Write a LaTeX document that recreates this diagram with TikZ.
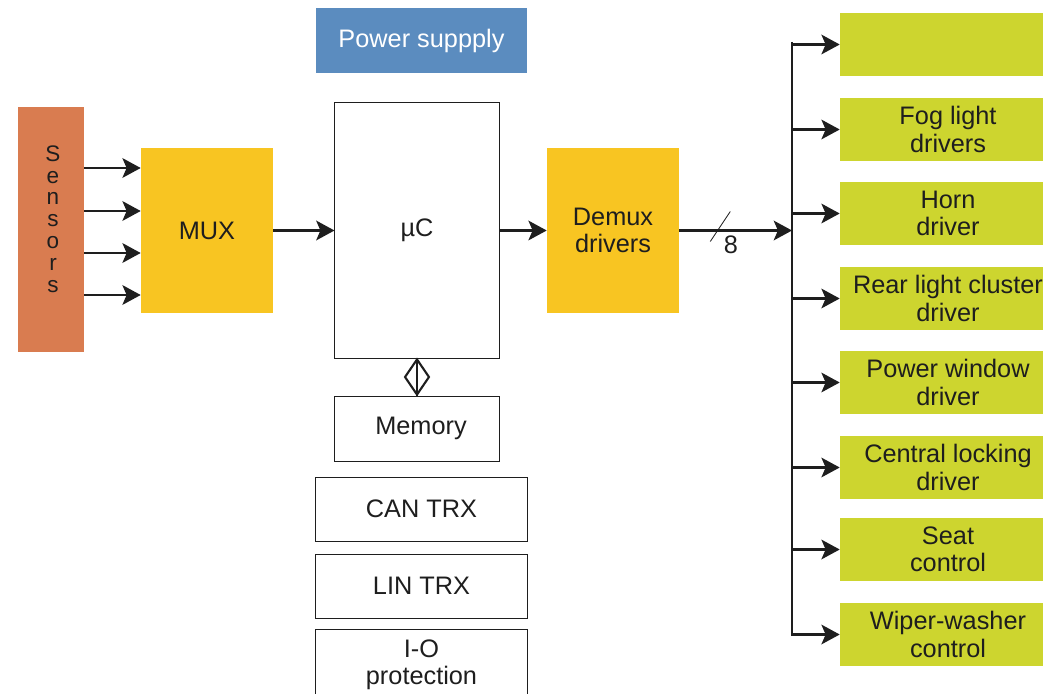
\documentclass[tikz,border=0pt]{standalone}
\usepackage{fontspec}
\setmainfont{Liberation Sans}
\usetikzlibrary{arrows.meta,shapes.geometric,calc}
\definecolor{sensorcol}{RGB}{217,124,80}
\definecolor{muxcol}{RGB}{248,197,34}
\definecolor{powercol}{RGB}{91,140,191}
\definecolor{drivercol}{RGB}{205,213,47}
\definecolor{inkcol}{RGB}{30,30,30}

\begin{document}
\begin{tikzpicture}[x=0.025cm,y=-0.025cm,
	every node/.style={font=\fontsize{18}{19.3}\selectfont,text=inkcol,align=center},
	fillbox/.style={inner sep=0pt,minimum width=3.3cm,minimum height=4.125cm},
	linebox/.style={draw=inkcol,line width=0.7pt,inner sep=0pt,minimum width=5.275cm,minimum height=1.6cm},
	outbox/.style={fill=drivercol,inner sep=0pt,minimum width=5.4cm,minimum height=1.575cm},
	sig/.style={draw=inkcol,line width=1.5pt,-{Stealth[length=13pt,width=14pt,inset=3pt]}}]

	\useasboundingbox (0,0) rectangle (1043,694);

	% input side
	\node[fill=sensorcol,inner sep=0pt,minimum width=1.65cm,minimum height=6.125cm] (sensors) at (51,229.5){};
	\node[font=\fontsize{16}{15.5}\selectfont] (sensorlbl) at (53,219){S\\e\\n\\s\\o\\r\\s};
	\node[fillbox,fill=muxcol] (mux) at (207,230.5){MUX};
	\foreach \y in {168,211,253,295}
		\draw[sig] (sensors.east |- 0,\y) -- (mux.west |- 0,\y);

	% controller
	\node[fill=powercol,inner sep=0pt,minimum width=5.275cm,minimum height=1.625cm,text=white] (power) at (421.5,40.5){Power suppply};
	\node[linebox,minimum width=4.1cm,minimum height=6.375cm] (uc) at (417,230.5){µC};
	\node[linebox,minimum width=4.1cm,minimum height=1.625cm] (memory) at (417,428.5){\hspace*{0.2cm}Memory};
	\node[linebox] (cantrx) at (421.5,509){CAN TRX};
	\node[linebox] (lintrx) at (421.5,586){LIN TRX};
	\node[linebox,minimum height=1.8cm] (ioprot) at (421.5,665){I-O\\protection};
	\draw[inkcol,line width=1.5pt] (uc.south) -- (memory.north);
	\node[diamond,draw=inkcol,line width=1.5pt,inner sep=0pt,minimum width=0.62cm,minimum height=0.9cm] (membus) at ($(uc.south)!0.5!(memory.north)$){};

	\draw[sig] (mux) -- (uc);
	\node[fillbox,fill=muxcol] (demux) at (613,230.5){Demux\\drivers};
	\draw[sig] (uc) -- (demux);

	% output bus
	\coordinate (bustop) at (792,42);
	\coordinate (busbot) at (792,636);
	\draw[inkcol,line width=1.5pt] (bustop) -- (busbot);
	\draw[sig] (demux) -- (demux -| bustop);
	\draw[inkcol,line width=0.6pt] (demux.east) ++(31,11) -- ++(20,-30); %bus width mark
	\node (buswidth) at (731,245){8};

	\node[outbox] (out1) at (948,44.5){};
	\node[outbox] (out2) at (948,129.5){Fog light\\drivers};
	\node[outbox] (out3) at (948,213.5){Horn\\driver};
	\node[outbox] (out4) at (948,298.5){Rear light cluster\\driver};
	\node[outbox] (out5) at (948,382.5){Power window\\driver};
	\node[outbox] (out6) at (948,467.5){Central locking\\driver};
	\node[outbox] (out7) at (948,549.5){Seat\\control};
	\node[outbox] (out8) at (948,634.5){Wiper-washer\\control};
	\foreach \n in {1,...,8}
		\draw[sig] (out\n.west -| bustop) -- (out\n.west);

\end{tikzpicture}
\end{document}
